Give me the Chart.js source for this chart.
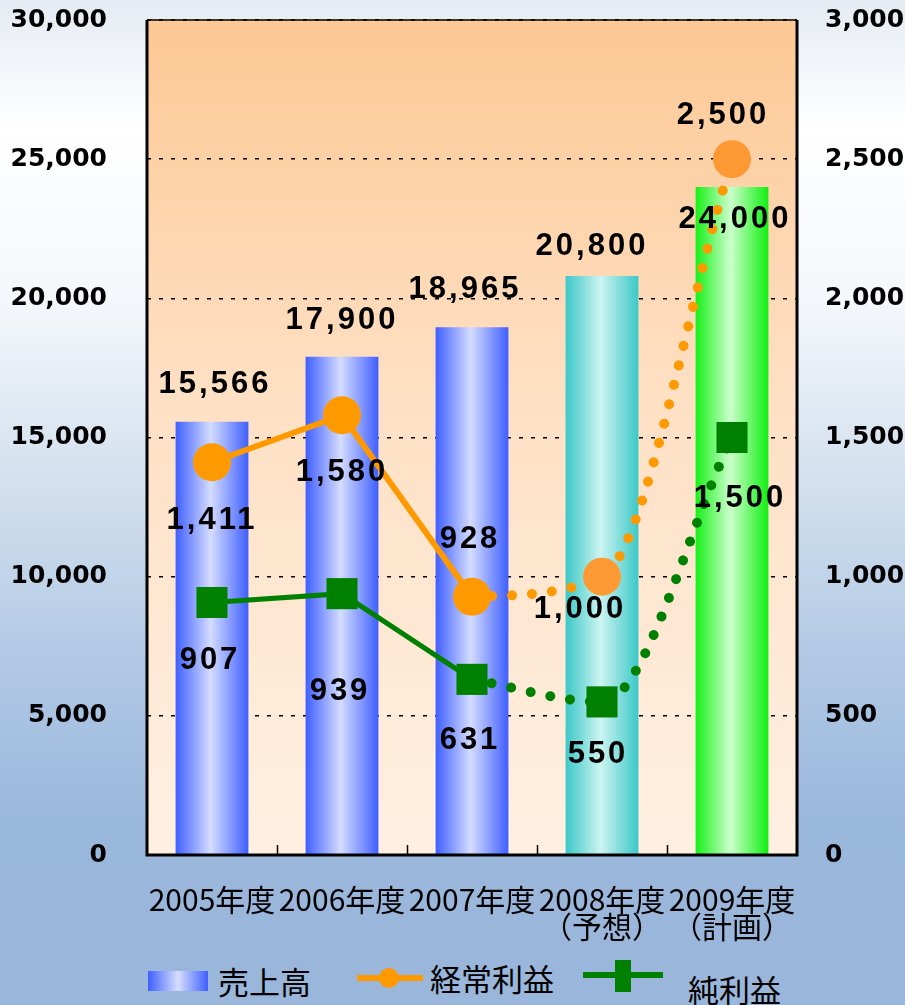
<!DOCTYPE html>
<html lang="ja">
<head>
<meta charset="utf-8">
<title>売上高・経常利益・純利益</title>
<script src="https://cdn.jsdelivr.net/npm/chart.js@4/dist/chart.umd.min.js"></script>
<style>
  html, body { margin: 0; padding: 0; }
  body {
    width: 905px; height: 1005px; overflow: hidden; position: relative;
    background: linear-gradient(to bottom, #e4ebf2 0%, #f3f6fa 7%, #ffffff 13%, #f4f7fb 30%, #d3e0ee 48%, #b0c8e4 66%, #9ab7dc 82%, #9ab6da 100%);
    font-family: "Noto Sans CJK JP", sans-serif;
  }
  #wrap { position: absolute; left: 0; top: 0; width: 905px; height: 945px; }
  .lg { position: absolute; }
  .lg-text { font-size: 31px; line-height: 30px; color: #000; white-space: nowrap; }
</style>
</head>
<body>
<div id="wrap"><canvas id="chart" width="905" height="945"></canvas></div>

<!-- legend -->
<div class="lg" style="left:148px;top:971px;width:60px;height:20px;background:linear-gradient(to right,#3f5fff,#d6deff 50%,#3f5fff);"></div>
<div class="lg lg-text" style="left:218px;top:966px;">売上高</div>
<div class="lg" style="left:357px;top:975px;width:66px;height:6px;background:#ff9900;"></div>
<div class="lg" style="left:379px;top:968px;width:20px;height:20px;border-radius:50%;background:#ff9900;"></div>
<div class="lg lg-text" style="left:430px;top:963px;">経常利益</div>
<div class="lg" style="left:583px;top:972px;width:80px;height:6px;background:#008000;"></div>
<div class="lg" style="left:615px;top:960px;width:16px;height:32px;background:#008000;"></div>
<div class="lg lg-text" style="left:688px;top:974px;">純利益</div>

<script>
'use strict';

// ---- data ----
const YEARS = ['2005年度', '2006年度', '2007年度', '2008年度', '2009年度'];
const YEAR_NOTES = ['', '', '', '（予想）', '（計画）'];
const SALES = [15566, 17900, 18965, 20800, 24000];      // 売上高 (left axis)
const ORDINARY = [1411, 1580, 928, 1000, 2500];         // 経常利益 (right axis)
const NET = [907, 939, 631, 550, 1500];                 // 純利益 (right axis)
const ACTUAL_YEARS = 3;                                  // 2005-2007 are results, rest forecast/plan
const LEFT_TICKS = [0, 5000, 10000, 15000, 20000, 25000, 30000];
const RIGHT_TICKS = [0, 500, 1000, 1500, 2000, 2500, 3000];

// ---- label placement (pixel offsets from each mark) ----
const SALES_LABEL_POS = [[3, -37], [0, -36], [-7, -38], [-10, -30], [3, 32]];
const ORDINARY_LABEL_POS = [[0, 58], [0, 57], [-2, -57], [-22, 33], [-9, -44]];
const NET_LABEL_POS = [[-2, 58], [-2, 98], [-2, 61], [-4, 53], [8, 61]];

const BAR_PCT = 0.56;
const BAR_STOPS = [
  ['#3f5fff', '#d4dcff', '#3f5fff'],
  ['#3f5fff', '#d4dcff', '#3f5fff'],
  ['#3f5fff', '#d4dcff', '#3f5fff'],
  ['#3cc8c8', '#ccf4f0', '#3cc8c8'],
  ['#18f018', '#ccffcc', '#10f010']
];

const $ = id => document.getElementById(id);
const fmt = v => v.toLocaleString('en-US');
const solidPart = arr => arr.map((v, i) => (i < ACTUAL_YEARS ? v : null));
const dottedPart = arr => arr.map((v, i) => (i >= ACTUAL_YEARS - 1 ? v : null));
const forecastOnly = r => YEARS.map((_, i) => (i >= ACTUAL_YEARS ? r : 0));

function barFill(ctx) {
  const chart = ctx.chart;
  const area = chart.chartArea;
  const stops = BAR_STOPS[ctx.dataIndex];
  if (!area || !chart.scales.x) return stops[0];
  const x = chart.scales.x.getPixelForValue(ctx.dataIndex);
  const half = (area.width / YEARS.length) * BAR_PCT / 2;
  const g = chart.ctx.createLinearGradient(x - half, 0, x + half, 0);
  g.addColorStop(0, stops[0]);
  g.addColorStop(0.48, stops[1]);
  g.addColorStop(1, stops[2]);
  return g;
}

// vertical axes: fixed width, and no extra top/bottom padding from the tick padding
const fixAxis = width => s => { s.width = width; s.paddingTop = 15; s.paddingBottom = 15; };

/* ─── plugins: plot background, frame, value labels ─── */
const plotBackground = {
  id: 'plotBackground',
  beforeDraw(chart) {
    const { ctx, chartArea: a } = chart;
    const g = ctx.createLinearGradient(0, a.top, 0, a.bottom);
    g.addColorStop(0, '#fdc894');
    g.addColorStop(0.45, '#fee0c4');
    g.addColorStop(1, '#fff0e2');
    ctx.save();
    ctx.fillStyle = g;
    ctx.fillRect(a.left, a.top, a.width, a.height);
    ctx.restore();
  }
};

const frameAndLabels = {
  id: 'frameAndLabels',
  afterDatasetsDraw(chart) {
    const { ctx, chartArea: a } = chart;
    const x = chart.scales.x, y = chart.scales.y, y1 = chart.scales.y1;

    ctx.save();
    // frame
    ctx.strokeStyle = '#000';
    ctx.lineWidth = 3;
    ctx.beginPath();
    ctx.moveTo(a.left, a.top);
    ctx.lineTo(a.left, a.bottom);
    ctx.lineTo(a.right, a.bottom);
    ctx.lineTo(a.right, a.top);
    ctx.stroke();
    ctx.lineWidth = 1.5;
    ctx.beginPath();
    ctx.moveTo(a.left, a.top);
    ctx.lineTo(a.right, a.top);
    ctx.stroke();
    // inward category ticks
    ctx.lineWidth = 1.5;
    const cw = a.width / YEARS.length;
    for (let i = 1; i < YEARS.length; i++) {
      const tx = Math.round(a.left + cw * i) + 0.5;
      ctx.beginPath();
      ctx.moveTo(tx, a.bottom);
      ctx.lineTo(tx, a.bottom - 10);
      ctx.stroke();
    }

    // value labels
    ctx.fillStyle = '#000';
    ctx.font = 'bold 31px "Liberation Sans", Arial, sans-serif';
    ctx.letterSpacing = '3px';
    ctx.textAlign = 'center';
    ctx.textBaseline = 'middle';
    const put = (vals, scale, pos) => vals.forEach((v, i) => {
      const px = x.getPixelForValue(i) + pos[i][0];
      const py = scale.getPixelForValue(v) + pos[i][1];
      ctx.fillText(fmt(v), px, py);
    });
    put(SALES, y, SALES_LABEL_POS);
    put(ORDINARY, y1, ORDINARY_LABEL_POS);
    put(NET, y1, NET_LABEL_POS);
    ctx.restore();
  }
};

const tickFont = { family: '"DejaVu Sans", sans-serif', size: 25, weight: 'bold' };

new Chart($('chart'), {
  data: {
    labels: YEARS.map((y, i) => (YEAR_NOTES[i] ? [y, YEAR_NOTES[i]] : y)),
    datasets: [
      {
        type: 'line', label: '経常利益', yAxisID: 'y1', order: 1,
        data: dottedPart(ORDINARY),
        borderColor: '#ff9900', borderWidth: 10, borderDash: [0.01, 20], borderCapStyle: 'round',
        cubicInterpolationMode: 'monotone',
        pointRadius: forecastOnly(19), pointBorderWidth: 0,
        pointBackgroundColor: '#ff9933', pointStyle: 'circle'
      },
      {
        type: 'line', label: '経常利益', yAxisID: 'y1', order: 0,
        data: solidPart(ORDINARY),
        borderColor: '#ff9900', borderWidth: 6,
        pointRadius: 19, pointBorderWidth: 0,
        pointBackgroundColor: '#ff9900', pointStyle: 'circle'
      },
      {
        type: 'line', label: '純利益', yAxisID: 'y1', order: 3,
        data: dottedPart(NET),
        borderColor: '#008000', borderWidth: 10, borderDash: [0.01, 20], borderCapStyle: 'round',
        cubicInterpolationMode: 'monotone',
        pointRadius: forecastOnly(22), pointBorderWidth: 0,
        pointBackgroundColor: '#008000', pointStyle: 'rect'
      },
      {
        type: 'line', label: '純利益', yAxisID: 'y1', order: 2,
        data: solidPart(NET),
        borderColor: '#008000', borderWidth: 5,
        pointRadius: 22, pointBorderWidth: 0,
        pointBackgroundColor: '#008000', pointStyle: 'rect'
      },
      {
        type: 'bar', label: '売上高', yAxisID: 'y', order: 10,
        data: SALES,
        backgroundColor: barFill, borderWidth: 0,
        categoryPercentage: 1, barPercentage: BAR_PCT
      }
    ]
  },
  options: {
    responsive: false,
    animation: false,
    devicePixelRatio: 1,
    layout: { autoPadding: false, padding: { top: 20, left: 0, right: 0, bottom: 0 } },
    plugins: { legend: { display: false }, tooltip: { enabled: false } },
    scales: {
      x: {
        grid: { display: false },
        border: { display: false },
        ticks: {
          color: '#000', padding: 24, maxRotation: 0, autoSkip: false,
          font: { family: '"Liberation Sans Narrow", "Noto Sans CJK JP", sans-serif', size: 30, lineHeight: 0.87 }
        },
        afterFit: s => { s.height = 90; }
      },
      y: {
        position: 'left', min: 0, max: 30000,
        afterBuildTicks: s => { s.ticks = LEFT_TICKS.map(v => ({ value: v })); },
        grid: { color: '#000', lineWidth: 1.5, drawTicks: false },
        border: { display: false, dash: [4, 8] },
        ticks: { color: '#000', padding: 40, font: tickFont, callback: v => fmt(v) },
        afterFit: fixAxis(147)
      },
      y1: {
        position: 'right', min: 0, max: 3000,
        afterBuildTicks: s => { s.ticks = RIGHT_TICKS.map(v => ({ value: v })); },
        grid: { drawOnChartArea: false, drawTicks: false },
        border: { display: false },
        ticks: { color: '#000', padding: 28, font: tickFont, callback: v => fmt(v) },
        afterFit: fixAxis(108)
      }
    }
  },
  plugins: [plotBackground, frameAndLabels]
});
</script>
</body>
</html>
